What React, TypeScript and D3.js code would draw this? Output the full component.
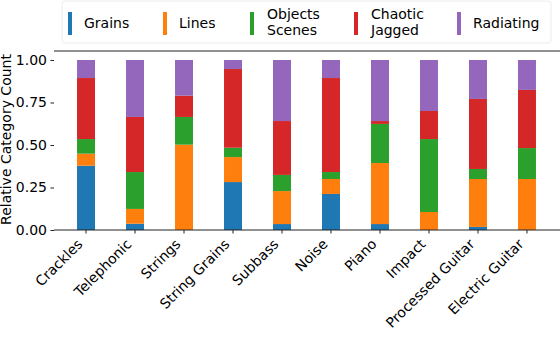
import React, { useEffect, useRef } from "react";
import { select, scaleBand, scaleLinear, axisLeft, axisBottom, stack, format } from "d3";

const categories = [
    "Crackles", "Telephonic", "Strings", "String Grains", "Subbass",
    "Noise", "Piano", "Impact", "Processed Guitar", "Electric Guitar",
];

// relative share of each category per sound class
const grains = [0.378, 0.037, 0.0, 0.282, 0.035, 0.212, 0.035, 0.0, 0.018, 0.0];
const lines = [0.071, 0.087, 0.502, 0.147, 0.194, 0.088, 0.359, 0.106, 0.282, 0.3];
const objectsScenes = [0.086, 0.217, 0.163, 0.055, 0.095, 0.041, 0.23, 0.429, 0.059, 0.182];
const chaoticJagged = [0.359, 0.324, 0.125, 0.463, 0.317, 0.553, 0.017, 0.165, 0.412, 0.342];
const radiating = [0.106, 0.335, 0.21, 0.053, 0.359, 0.106, 0.359, 0.3, 0.229, 0.176];

const seriesKeys = ["grains", "lines", "objects", "chaotic", "radiating"];
const seriesLabels = [["Grains"], ["Lines"], ["Objects", "Scenes"], ["Chaotic", "Jagged"], ["Radiating"]];
const seriesColors = ["#1f77b4", "#ff7f0e", "#2ca02c", "#d62728", "#9467bd"];

const yTicks = [0, 0.25, 0.5, 0.75, 1.0];

const FONT = "'DejaVu Sans', sans-serif";

function StackedBars() {
    const svgRef = useRef<SVGSVGElement>(null);

    useEffect(() => {
        const svg = select(svgRef.current);
        svg.selectAll("*").remove();

        const data = categories.map((name, i) => ({
            name,
            grains: grains[i],
            lines: lines[i],
            objects: objectsScenes[i],
            chaotic: chaoticJagged[i],
            radiating: radiating[i],
        }));
        const layers = stack<any>().keys(seriesKeys)(data);

        const left = 54, right = 559, top = 51, bottom = 230;

        const x = scaleBand()
            .domain(categories)
            .range([left, right])
            .paddingInner(0.633)
            .paddingOuter(0.47);
        const y = scaleLinear().domain([0, 1.053]).range([bottom, top]);

        // bars
        svg.append("g")
            .selectAll("g")
            .data(layers)
            .join("g")
                .attr("fill", (_, i) => seriesColors[i])
                .selectAll("rect")
                .data(layer => layer)
                .join("rect")
                    .attr("x", d => x(d.data.name))
                    .attr("width", x.bandwidth())
                    .attr("y", d => y(d[1]))
                    .attr("height", d => y(d[0]) - y(d[1]));

        // y axis, no spine
        const yAxis = svg.append("g")
            .attr("transform", `translate(${left},0)`)
            .call(axisLeft(y).tickValues(yTicks).tickFormat(format(".2f")).tickSize(3.5).tickPadding(3.5));
        yAxis.select(".domain").remove();
        yAxis.selectAll("line").attr("stroke", "#222");
        yAxis.selectAll("text")
            .attr("font-family", FONT).attr("font-size", 14).attr("fill", "#000");

        // x axis
        const xAxis = svg.append("g")
            .attr("transform", `translate(0,${bottom})`)
            .call(axisBottom(x).tickSize(3.5).tickPadding(0));
        xAxis.select(".domain").remove();
        xAxis.selectAll("line").attr("stroke", "#222");
        xAxis.selectAll("text")
            .attr("font-family", FONT).attr("font-size", 14).attr("fill", "#000")
            .attr("text-anchor", "end")
            .attr("dy", null)
            .attr("y", null)
            .attr("transform", "translate(-2.5,15) rotate(-45)");

        // top and bottom spines
        svg.append("line").attr("x1", left).attr("x2", 560).attr("y1", top).attr("y2", top)
            .attr("stroke", "#222").attr("stroke-width", 1);
        svg.append("line").attr("x1", left).attr("x2", 560).attr("y1", bottom).attr("y2", bottom)
            .attr("stroke", "#222").attr("stroke-width", 1);

        // y label
        svg.append("text")
            .attr("transform", `translate(11,${(top + bottom) / 2 - 1}) rotate(-90)`)
            .attr("text-anchor", "middle")
            .attr("font-family", FONT).attr("font-size", 14)
            .text("Relative Category Count");

        // legend
        const legend = svg.append("g");
        legend.append("rect")
            .attr("x", 62).attr("y", 1).attr("width", 489).attr("height", 42)
            .attr("rx", 3).attr("fill", "#fff").attr("fill-opacity", 0.8)
            .attr("stroke", "#ececec");
        const itemX = [68, 163, 250, 354, 457];
        seriesLabels.forEach((lbl, i) => {
            const g = legend.append("g").attr("transform", `translate(${itemX[i]},0)`);
            g.append("rect").attr("x", 0).attr("y", 12).attr("width", 4).attr("height", 23)
                .attr("fill", seriesColors[i]);
            const t = g.append("text")
                .attr("font-family", FONT).attr("font-size", 14);
            if (lbl.length === 1) {
                t.append("tspan").attr("x", 16).attr("y", 28).text(lbl[0]);
            } else {
                t.append("tspan").attr("x", 17).attr("y", 18.5).text(lbl[0]);
                t.append("tspan").attr("x", 17).attr("y", 34.5).text(lbl[1]);
            }
        });
    }, []);

    return <svg ref={svgRef} width={560} height={364} style={{ position: "absolute", left: 0, top: 0 }} />;
}

export default function App() {
    return <StackedBars />;
}
